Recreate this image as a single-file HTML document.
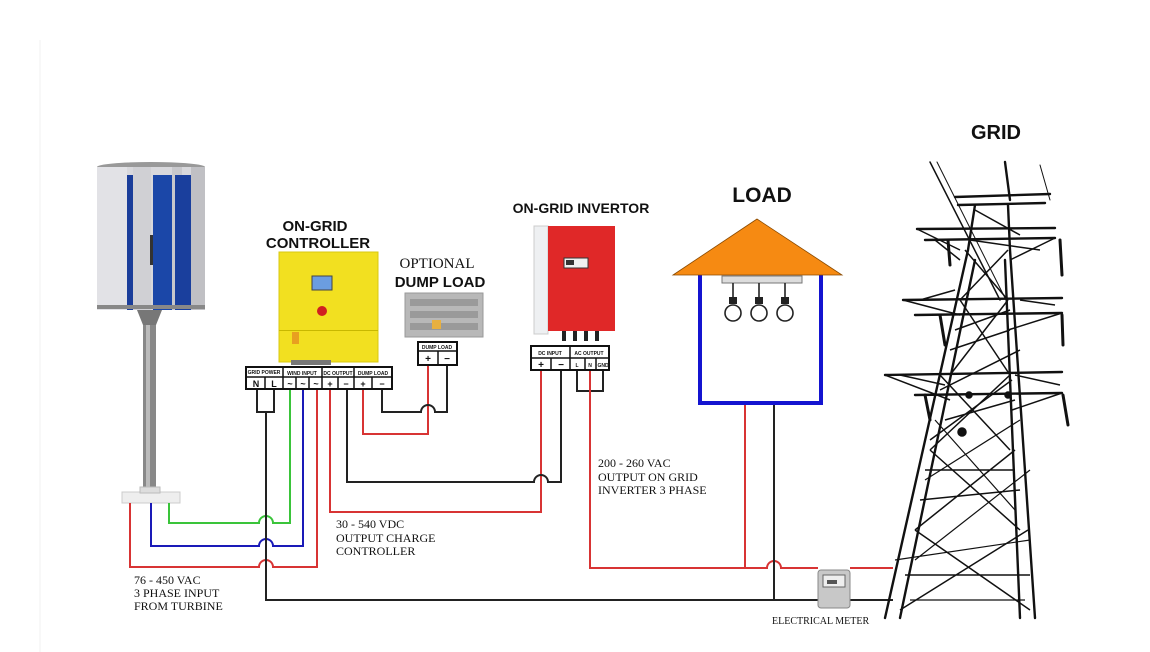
<!DOCTYPE html>
<html><head><meta charset="utf-8"><style>
html,body{margin:0;padding:0;background:#fff;}
svg{display:block;}
.t{font-family:"Liberation Sans",sans-serif;font-weight:bold;fill:#111;}
.s{font-family:"Liberation Serif",serif;fill:#111;}
.tb{font-family:"Liberation Sans",sans-serif;font-weight:bold;fill:#111;font-size:5px;}
</style></head><body>
<svg width="1150" height="652" viewBox="0 0 1150 652" xmlns="http://www.w3.org/2000/svg">
<rect width="1150" height="652" fill="#fff"/>
<line x1="40" y1="40" x2="40" y2="652" stroke="#f2f2f2" stroke-width="1"/>

<!-- Turbine -->
<rect x="143" y="300" width="13" height="195" fill="#888"/>
<rect x="146" y="300" width="4" height="195" fill="#bbb"/>
<path d="M137 310 L162 310 L156 325 L143 325 Z" fill="#777"/>
<ellipse cx="151" cy="167" rx="54" ry="5" fill="#999"/>
<rect x="97" y="167" width="108" height="143" fill="#d8d8dc"/>
<rect x="97" y="167" width="30" height="143" fill="#e2e2e6"/>
<rect x="127" y="175" width="6" height="135" fill="#1a3d9a"/>
<rect x="133" y="167" width="18" height="143" fill="#d0d0d4"/>
<rect x="153" y="175" width="20" height="135" fill="#1b47a8"/>
<rect x="172" y="167" width="10" height="143" fill="#c8c8cc"/>
<rect x="175" y="175" width="16" height="135" fill="#1a3f9d"/>
<rect x="191" y="167" width="14" height="143" fill="#c0c0c4"/>
<rect x="150" y="235" width="3" height="30" fill="#333"/>
<rect x="97" y="305" width="108" height="4" fill="#888"/>
<rect x="122" y="492" width="58" height="11" fill="#eee" stroke="#ccc"/>
<rect x="140" y="487" width="20" height="6" fill="#ddd" stroke="#bbb"/>

<g fill="none" stroke-width="2">
<path d="M169 503 V523 H259 A7 7 0 0 1 273 523 H290 V389" stroke="#3ac43a"/>
<path d="M151 503 V546 H259 A7 7 0 0 1 273 546 H303 V389" stroke="#1a1ab8"/>
<path d="M130 503 V567 H259 A7 7 0 0 1 273 567 H317 V389" stroke="#d83434"/>
<path d="M257 389 V412 H274 V389 M266 412 V600 H818" stroke="#222"/>
<path d="M850 600 H893" stroke="#222"/>
<path d="M330 389 V512 H541 V370" stroke="#d83434"/>
<path d="M347 389 V482 H534 A7 7 0 0 1 548 482 H561 V370" stroke="#222"/>
<path d="M363 389 V434 H428 V365" stroke="#d83434"/>
<path d="M382 389 V412 H421 A7 7 0 0 1 435 412 H447 V365" stroke="#222"/>
<path d="M577 370 V391 H603 V370" stroke="#222"/>
<path d="M590 370 V568 H767 A7 7 0 0 1 781 568 H818" stroke="#d83434"/>
<path d="M850 568 H893" stroke="#d83434"/>
<path d="M745 403 V568" stroke="#d83434"/>
<path d="M774 403 V600" stroke="#222"/>
</g>

<!-- Controller -->
<text class="t" x="315" y="231" font-size="15" text-anchor="middle">ON-GRID</text>
<text class="t" x="318" y="248" font-size="15" text-anchor="middle">CONTROLLER</text>
<rect x="279" y="252" width="99" height="110" fill="#f2e020" stroke="#d8c810"/>
<rect x="279" y="330" width="99" height="1" fill="#c8b800"/>
<rect x="312" y="276" width="20" height="14" fill="#6b9de0" stroke="#444"/>
<circle cx="322" cy="311" r="5" fill="#d02020"/>
<rect x="292" y="332" width="7" height="12" fill="#e8a020"/>
<rect x="291" y="360" width="40" height="5" fill="#777"/>
<rect x="246" y="367" width="146" height="22" fill="#fff" stroke="#111" stroke-width="2"/>
<line x1="246" y1="377" x2="392" y2="377" stroke="#111" stroke-width="1.5"/>
<g stroke="#111" stroke-width="1.5">
<line x1="283" y1="367" x2="283" y2="389"/><line x1="322" y1="367" x2="322" y2="389"/><line x1="354" y1="367" x2="354" y2="389"/>
<line x1="265" y1="377" x2="265" y2="389"/><line x1="296" y1="377" x2="296" y2="389"/><line x1="309" y1="377" x2="309" y2="389"/><line x1="338" y1="377" x2="338" y2="389"/><line x1="372" y1="377" x2="372" y2="389"/>
</g>
<text class="tb" x="264" y="374" text-anchor="middle" font-size="4">GRID POWER</text>
<text class="tb" x="302" y="375" text-anchor="middle">WIND INPUT</text>
<text class="tb" x="338" y="375" text-anchor="middle">DC OUTPUT</text>
<text class="tb" x="373" y="375" text-anchor="middle">DUMP LOAD</text>
<g class="t" font-size="9" text-anchor="middle">
<text x="256" y="387">N</text><text x="274" y="387">L</text>
<text x="290" y="387">~</text><text x="303" y="387">~</text><text x="316" y="387">~</text>
<text x="330" y="387">+</text><text x="346" y="387">−</text><text x="363" y="387">+</text><text x="382" y="387">−</text>
</g>

<!-- Dump load -->
<text class="s" x="437" y="268" font-size="15" text-anchor="middle">OPTIONAL</text>
<text class="t" x="440" y="287" font-size="15" text-anchor="middle">DUMP LOAD</text>
<rect x="405" y="293" width="78" height="44" fill="#b8b8b8" stroke="#999"/>
<rect x="410" y="299" width="68" height="7" fill="#9a9a9a"/>
<rect x="410" y="311" width="68" height="7" fill="#9a9a9a"/>
<rect x="410" y="323" width="68" height="7" fill="#9a9a9a"/>
<rect x="432" y="320" width="9" height="9" fill="#e8b040"/>
<rect x="418" y="342" width="39" height="23" fill="#fff" stroke="#111" stroke-width="2"/>
<line x1="418" y1="351" x2="457" y2="351" stroke="#111" stroke-width="1.5"/>
<line x1="438" y1="351" x2="438" y2="365" stroke="#111" stroke-width="1.5"/>
<text class="tb" x="437" y="349" text-anchor="middle">DUMP LOAD</text>
<text class="t" x="428" y="362" font-size="10" text-anchor="middle">+</text>
<text class="t" x="447" y="362" font-size="10" text-anchor="middle">−</text>

<!-- Inverter -->
<text class="t" x="581" y="213" font-size="14" text-anchor="middle">ON-GRID INVERTOR</text>
<rect x="534" y="226" width="14" height="108" fill="#eef0f2" stroke="#ccc"/>
<rect x="548" y="226" width="67" height="105" fill="#e02828"/>
<rect x="564" y="258" width="24" height="10" fill="#f0f0f0" stroke="#333"/>
<rect x="566" y="260" width="8" height="5" fill="#333"/>
<g fill="#222"><rect x="562" y="331" width="4" height="10"/><rect x="573" y="331" width="4" height="10"/><rect x="584" y="331" width="4" height="10"/><rect x="595" y="331" width="4" height="10"/></g>
<rect x="531" y="346" width="78" height="24" fill="#fff" stroke="#111" stroke-width="2"/>
<line x1="531" y1="358" x2="609" y2="358" stroke="#111" stroke-width="1.5"/>
<g stroke="#111" stroke-width="1.5"><line x1="570" y1="346" x2="570" y2="370"/><line x1="551" y1="358" x2="551" y2="370"/><line x1="585" y1="358" x2="585" y2="370"/><line x1="596" y1="358" x2="596" y2="370"/></g>
<text class="tb" x="550" y="355" text-anchor="middle">DC INPUT</text>
<text class="tb" x="589" y="355" text-anchor="middle">AC OUTPUT</text>
<g class="t" text-anchor="middle"><text x="541" y="368" font-size="10">+</text><text x="561" y="368" font-size="10">−</text>
<text x="577" y="367" font-size="5">L</text><text x="590" y="367" font-size="5">N</text><text x="603" y="367" font-size="5">GND</text></g>

<!-- Load -->
<text class="t" x="762" y="202" font-size="21" text-anchor="middle">LOAD</text>
<rect x="700" y="272" width="121" height="131" fill="#fff" stroke="#1414d0" stroke-width="4"/>
<polygon points="757,219 673,275 842,275" fill="#f68a12" stroke="#8a4a00" stroke-width="0.8"/>
<rect x="722" y="276" width="80" height="7" fill="#ddd" stroke="#777"/>
<g fill="#fff" stroke="#222" stroke-width="1.6">
<line x1="733" y1="283" x2="733" y2="297"/><line x1="759" y1="283" x2="759" y2="297"/><line x1="785" y1="283" x2="785" y2="297"/>
<circle cx="733" cy="313" r="8"/><circle cx="759" cy="313" r="8"/><circle cx="785" cy="313" r="8"/>
</g>
<g fill="#222"><rect x="729" y="297" width="8" height="7"/><rect x="755" y="297" width="8" height="7"/><rect x="781" y="297" width="8" height="7"/></g>

<!-- Meter -->
<rect x="818" y="570" width="32" height="38" rx="3" fill="#c8c8c8" stroke="#888"/>
<rect x="823" y="575" width="22" height="12" fill="#eee" stroke="#666"/>
<rect x="827" y="580" width="10" height="4" fill="#555"/>

<!-- Labels -->
<g class="s" font-size="12">
<text x="134" y="584">76 - 450 VAC</text><text x="134" y="597">3 PHASE INPUT</text><text x="134" y="610">FROM TURBINE</text>
<text x="336" y="528">30 - 540 VDC</text><text x="336" y="542">OUTPUT CHARGE</text><text x="336" y="555">CONTROLLER</text>
<text x="598" y="467">200 - 260 VAC</text><text x="598" y="481">OUTPUT ON GRID</text><text x="598" y="494">INVERTER 3 PHASE</text>
</g>
<text class="s" x="772" y="624" font-size="10">ELECTRICAL METER</text>

<!-- Grid -->
<text class="t" x="996" y="139" font-size="20" text-anchor="middle">GRID</text>
<g stroke="#111" stroke-width="2.4" fill="none" stroke-linecap="round">
<path d="M885 618 L968 250 L975 205"/>
<path d="M1035 618 L1010 250 L1008 205"/>
<path d="M900 618 L975 260"/>
<path d="M1020 618 L1005 260"/>
<path d="M930 162 L1000 300" stroke-width="1.5"/>
<path d="M937 162 L1006 300" stroke-width="1"/>
<path d="M1005 162 L1010 200"/>
<path d="M1040 165 L1050 200" stroke-width="1"/>
<path d="M955 197 L1050 194 M958 205 L1045 203"/>
<path d="M917 229 L1055 228 M925 240 L1055 238"/>
<path d="M903 300 L1062 298 M915 315 L1062 313"/>
<path d="M885 375 L1062 372 M915 395 L1062 393"/>
<path d="M1060 240 L1062 275 M1062 315 L1063 345 M1063 395 L1068 425 M940 315 L945 345 M925 395 L930 420 M948 240 L950 265" stroke-width="3"/>
</g>
<g stroke="#111" stroke-width="1.5" fill="none">
<path d="M960 300 L1010 375 M1008 300 L950 375 M965 250 L1008 300 M1008 250 L960 300 M940 375 L1010 450 M1010 375 L930 450 M930 450 L1020 530 M1015 450 L915 530 M915 530 L1030 610 M1028 530 L900 610 M905 575 L1030 575 M925 470 L1015 470 M920 500 L1020 490"/>
<path d="M917 229 L960 250 M1055 238 L1010 260 M903 300 L960 315 M1062 313 L1008 330 M885 375 L950 400 M1062 393 L1012 410"/>
<path d="M940 390 L1020 350 M945 420 L1015 400 M930 440 L1012 380 M955 330 L1010 310 M950 350 L1010 330 M970 240 L1040 250 M975 210 L1020 235 M935 240 L960 260 M920 300 L955 290 M1020 300 L1055 305 M1015 375 L1060 385 M900 375 L945 385"/>
<path d="M895 560 L1030 540 M910 600 L1025 600 M935 420 L1015 510 M925 480 L1020 420 M915 560 L1030 470" stroke-width="1.2"/>
<circle cx="962" cy="432" r="4" fill="#111"/>
<circle cx="969" cy="395" r="3" fill="#111"/>
<circle cx="1008" cy="395" r="3" fill="#111"/>
</g>
</svg>
</body></html>
